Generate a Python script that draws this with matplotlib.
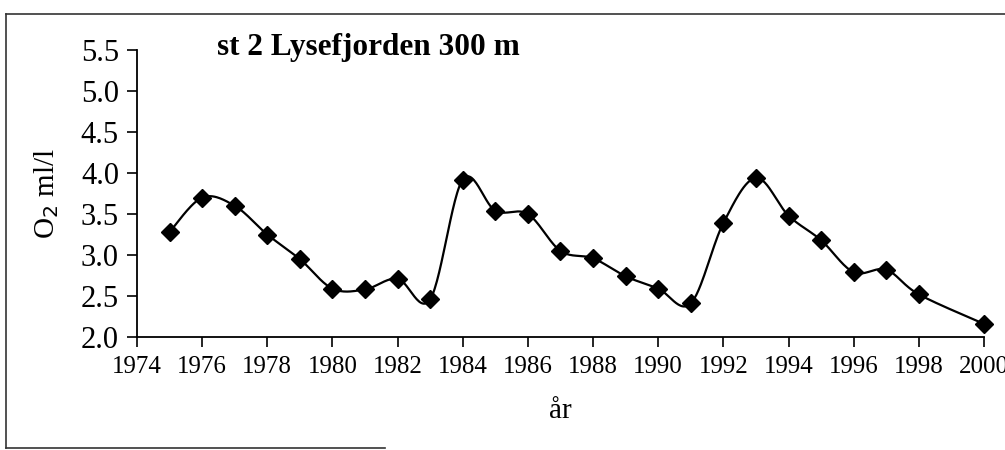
import numpy as np
import matplotlib.pyplot as plt
from matplotlib.lines import Line2D

plt.rcParams['font.family'] = ['Liberation Serif', 'DejaVu Serif']

years = [1975, 1976, 1977, 1978, 1979, 1980, 1981, 1982, 1983, 1984,
         1985, 1986, 1987, 1988, 1989, 1990, 1991, 1992, 1993, 1994,
         1995, 1996, 1997, 1998, 2000]
o2 = [3.28, 3.70, 3.60, 3.25, 2.95, 2.59, 2.58, 2.71, 2.46, 3.92,
      3.54, 3.50, 3.05, 2.96, 2.74, 2.59, 2.41, 3.39, 3.94, 3.48,
      3.18, 2.79, 2.82, 2.52, 2.16]
xticks = list(range(1974, 2001, 2))
yticks = [2.0, 2.5, 3.0, 3.5, 4.0, 4.5, 5.0, 5.5]
title = 'st 2 Lysefjorden 300 m'


def smooth(x, y, steps=30):
    # excel-style smoothed line: bezier segments with catmull-rom handles
    x = np.asarray(x, float)
    y = np.asarray(y, float)
    px = np.concatenate([[x[0]], x, [x[-1]]])
    py = np.concatenate([[y[0]], y, [y[-1]]])
    t = np.linspace(0, 1, steps)
    xs, ys = [], []
    for i in range(1, len(px) - 2):
        b0 = np.array([px[i], py[i]])
        b3 = np.array([px[i + 1], py[i + 1]])
        b1 = b0 + (np.array([px[i + 1], py[i + 1]]) - np.array([px[i - 1], py[i - 1]])) / 6
        b2 = b3 - (np.array([px[i + 2], py[i + 2]]) - np.array([px[i], py[i]])) / 6
        pts = ((1 - t)[:, None] ** 3 * b0 + 3 * ((1 - t) ** 2 * t)[:, None] * b1
               + 3 * ((1 - t) * t ** 2)[:, None] * b2 + (t ** 3)[:, None] * b3)
        xs.extend(pts[:, 0])
        ys.extend(pts[:, 1])
    return xs, ys


fig = plt.figure(figsize=(10.05, 4.5), dpi=100)
ax = fig.add_axes([0.1363, 0.2511, 0.8428, 0.6378])

sx, sy = smooth(years, o2)
ax.plot(sx, sy, color='black', lw=1.6, clip_on=False)
ax.plot(years, o2, ls='none', marker='D', ms=9, color='black', clip_on=False)

ax.set_xlim(1974, 2000)
ax.set_ylim(2.0, 5.5)
ax.set_xticks(xticks)
ax.set_yticks(yticks)
ax.set_yticklabels([f'{v:.1f}' for v in yticks])
for s in ['top', 'right']:
    ax.spines[s].set_visible(False)
for s in ['left', 'bottom']:
    ax.spines[s].set_linewidth(1.3)
ax.tick_params(axis='y', direction='out', length=7, width=1.2, labelsize=22, pad=6)
ax.tick_params(axis='x', direction='out', length=7, width=1.2, labelsize=18, pad=7)

ax.set_ylabel('O$_2$ ml/l', fontsize=21, labelpad=14)
ax.set_xlabel('år', fontsize=21, labelpad=14)

fig.text(217 / 1005, 1 - 47 / 450, title, fontsize=22.5, fontweight='bold', va='center', ha='left')

# chart frame, clipped at the right like the scan
frame = dict(color='#333333', lw=1.2, transform=fig.transFigure)
fig.add_artist(Line2D([6 / 1005, 6 / 1005], [1 - 14 / 450, 1 - 448 / 450], **frame))
fig.add_artist(Line2D([6 / 1005, 1.0], [1 - 14 / 450, 1 - 14 / 450], **frame))
fig.add_artist(Line2D([6 / 1005, 385 / 1005], [1 - 448 / 450, 1 - 448 / 450], **frame))

fig.savefig('out.png', dpi=100)
